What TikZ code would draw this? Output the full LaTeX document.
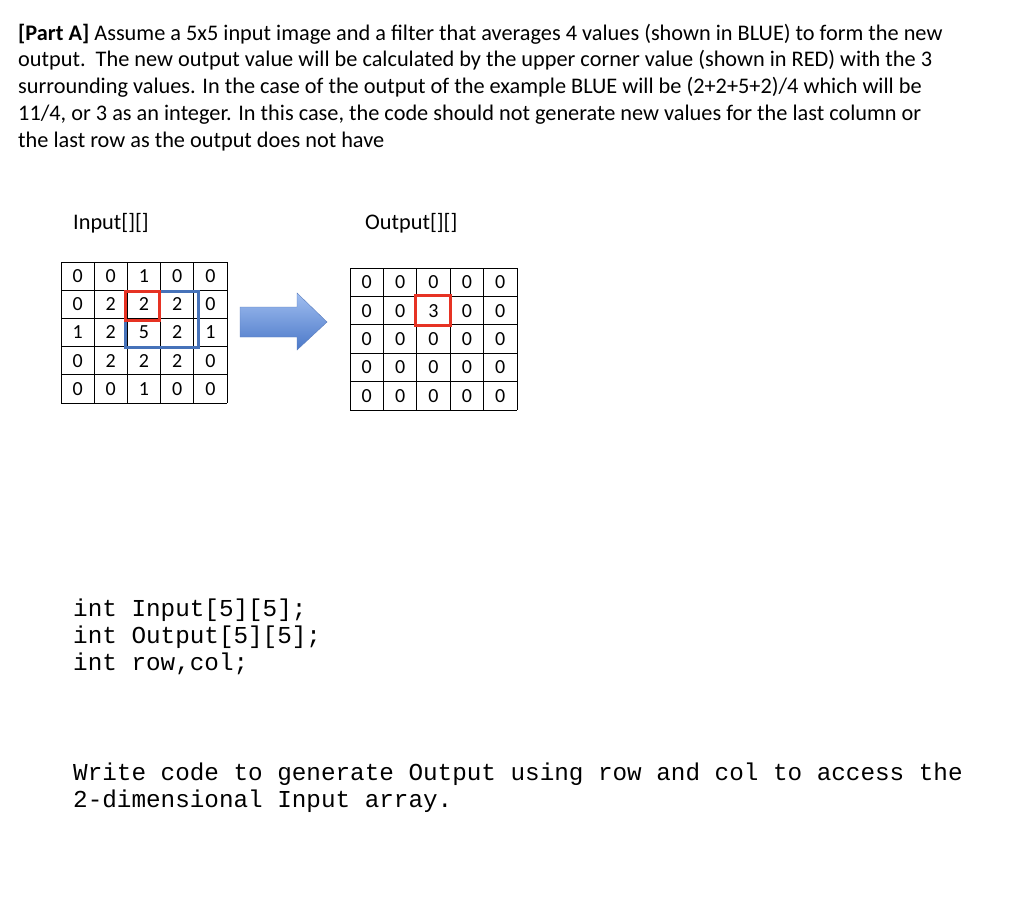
\documentclass[tikz,border=0pt]{standalone}
\usepackage{fontspec}
\setmainfont{Carlito}
\newfontfamily\codefont{Liberation Mono}
\begin{document}
\begin{tikzpicture}[x=1pt,y=-1pt,
  txt/.style={anchor=base west,inner sep=0pt,font=\fontsize{22.3}{24}\selectfont},
  code/.style={anchor=base west,inner sep=0pt,font=\codefont\fontsize{24.3}{26}\selectfont},
  cell/.style={font=\fontsize{20}{22}\selectfont,inner sep=0pt}]
\useasboundingbox[fill=white] (0,0) rectangle (1024,905);
\node[txt] (l1) at (18,40) {\textbf{[Part A]} Assume a 5x5 input image and a filter that averages 4 values (shown in BLUE) to form the new};
\node[txt] (l2) at (18,66) {output.\ \ The new output value will be calculated by the upper corner value (shown in RED) with the 3};
\node[txt] (l3) at (18,93) {surrounding values. In the case of the output of the example BLUE will be (2+2+5+2)/4 which will be};
\node[txt] (l4) at (18,120) {11/4, or 3 as an integer. In this case, the code should not generate new values for the last column or};
\node[txt] (l5) at (18,147) {the last row as the output does not have};
\node[txt] (hin) at (73,229) {Input[][]};
\node[txt] (hout) at (365,229) {Output[][]};
% input grid
\def\gx{61}\def\gy{262}\def\cw{33.2}\def\ch{28.2}
\foreach \k in {0,...,5}{
  \draw[line width=0.8pt] ({\gx+\k*\cw},\gy) -- ({\gx+\k*\cw},{\gy+5*\ch});
  \draw[line width=0.8pt] (\gx,{\gy+\k*\ch}) -- ({\gx+5*\cw},{\gy+\k*\ch});}
\foreach \row [count=\r from 0] in {{0,0,1,0,0},{0,2,2,2,0},{1,2,5,2,1},{0,2,2,2,0},{0,0,1,0,0}}{
  \foreach \v [count=\c from 0] in \row {
    \node[cell] (i\r\c) at ({\gx+(\c+0.5)*\cw},{\gy+(\r+0.5)*\ch}) {\v};}}
\draw[line width=3pt,color={rgb,255:red,70;green,114;blue,185}] (125,291) rectangle (198,347);
\draw[line width=3pt,color={rgb,255:red,230;green,50;blue,35}] (125,291) rectangle (159,320);
% output grid
\def\ox{350}\def\oy{268}\def\ow{33.4}\def\oh{28.4}
\foreach \k in {0,...,5}{
  \draw[line width=0.8pt] ({\ox+\k*\ow},\oy) -- ({\ox+\k*\ow},{\oy+5*\oh});
  \draw[line width=0.8pt] (\ox,{\oy+\k*\oh}) -- ({\ox+5*\ow},{\oy+\k*\oh});}
\foreach \r in {0,...,4}{\foreach \c in {0,...,4}{
  \ifnum\r=1 \ifnum\c=2 \def\val{3}\else\def\val{0}\fi\else\def\val{0}\fi
  \node[cell] (o\r\c) at ({\ox+(\c+0.5)*\ow},{\oy+(\r+0.5)*\oh}) {\val};}}
\draw[line width=3pt,color={rgb,255:red,230;green,50;blue,35}] (415,295) rectangle (450,325);
% arrow
\shade[top color={rgb,255:red,160;green,190;blue,240},bottom color={rgb,255:red,75;green,120;blue,200},draw={rgb,255:red,90;green,125;blue,190}]
  (240,307) -- (297,307) -- (297,293) -- (327,322) -- (297,350) -- (297,337) -- (240,337) -- cycle;
\node[code] (c1) at (73,616) {int Input[5][5];};
\node[code] (c2) at (73,643) {int Output[5][5];};
\node[code] (c3) at (73,670) {int row,col;};
\node[code] (w1) at (73,780) {Write code to generate Output using row and col to access the};
\node[code] (w2) at (73,807) {2-dimensional Input array.};
\end{tikzpicture}
\end{document}
